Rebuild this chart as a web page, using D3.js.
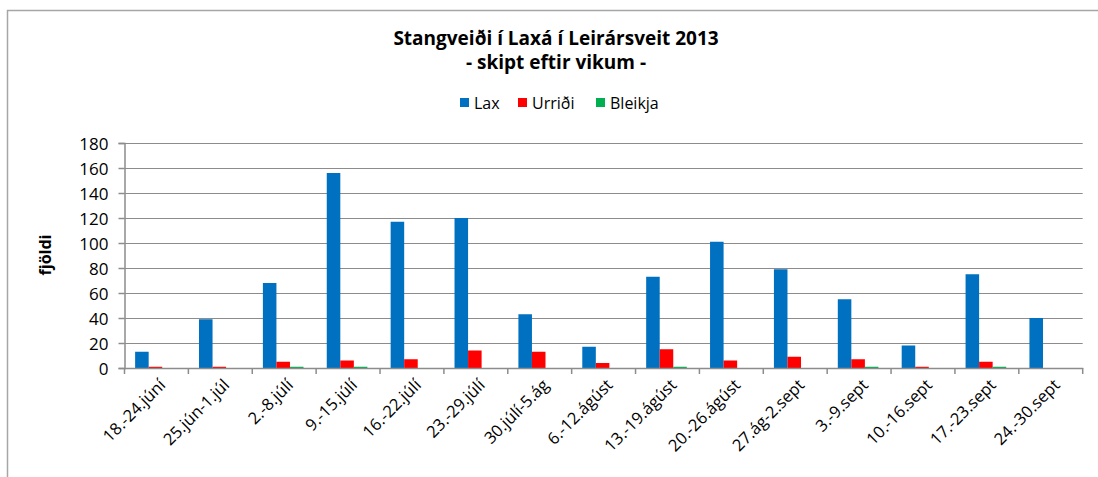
<!DOCTYPE html>
<html><head><meta charset="utf-8">
<script src="https://cdn.jsdelivr.net/npm/d3@7"></script>
<style>body{margin:0;background:#fff}svg{display:block}text{font-family:"Open Sans","Liberation Sans",sans-serif}</style>
</head><body>
<svg id="c" width="1098" height="477"></svg>
<script>
const categories = ["18.-24.júní","25.jún-1.júl","2.-8.júlí","9.-15.júlí","16.-22.júlí","23.-29.júlí","30.júlí-5.ág","6.-12.ágúst","13.-19.ágúst","20.-26.ágúst","27.ág-2.sept","3.-9.sept","10.-16.sept","17.-23.sept","24.-30.sept"];
const seriesNames = ["Lax","Urriði","Bleikja"];
const lax =     [13,39,68,156,117,120,43,17,73,101,79,55,18,75,40];
const urridi =  [1,1,5,6,7,14,13,4,15,6,9,7,1,5,0];
const bleikja = [0,0,1,1,0,0,0,0,1,0,0,1,0,1,0];
const yTicks = [0,20,40,60,80,100,120,140,160,180];
const colors = ["#0070C0","#FF0000","#00B050"];
const series = [lax, urridi, bleikja];

const svg = d3.select("#c");
svg.append("path").attr("d","M7.5,477 V10.5 H1098").attr("fill","none").attr("stroke","#a6a6a6").attr("stroke-width",1.5);

const m = {l:124.5, r:1082.7, t:143, b:368};
const x = d3.scaleBand().domain(categories).range([m.l, m.r]).paddingInner(0).paddingOuter(0);
const y = d3.scaleLinear().domain([0,180]).range([m.b, m.t]);
const bw = x.bandwidth();
const barW = bw*0.212;
const xs = d3.scaleBand().domain(seriesNames).range([0, barW*3]);
const groupOff = (bw - barW*3)/2 - 1;

svg.append("g").selectAll("line").data(yTicks.filter(d=>d>0)).join("line")
  .attr("x1", m.l).attr("x2", m.r).attr("y1", d=>Math.round(y(d))+0.5).attr("y2", d=>Math.round(y(d))+0.5)
  .attr("stroke","#8c8c8c").attr("stroke-width",1);

const g = svg.append("g");
series.forEach((vals, si) => {
  g.selectAll(null).data(vals.map((v,i)=>({v, c:categories[i]}))).join("rect")
    .attr("x", d => x(d.c) + groupOff + xs(seriesNames[si]))
    .attr("y", d => y(d.v))
    .attr("width", barW)
    .attr("height", d => y(0) - y(d.v))
    .attr("fill", colors[si]);
});

const ya = d3.axisLeft(y).tickValues(yTicks).tickSize(6).tickPadding(10).tickFormat(d3.format("d"));
const yg = svg.append("g").attr("transform",`translate(${m.l},0)`).call(ya);
yg.select(".domain").attr("stroke","#8c8c8c").attr("stroke-width",1.5);
yg.selectAll(".tick line").attr("stroke","#8c8c8c").attr("stroke-width",1.5);
yg.selectAll("text").attr("font-size",17).attr("fill","#000").attr("font-family","'Open Sans',sans-serif").attr("dy","0.36em");

const xa = d3.axisBottom(x).tickSize(0).tickFormat(d=>d);
const xg = svg.append("g").attr("transform",`translate(0,${m.b})`).call(xa);
xg.select(".domain").attr("stroke","#8c8c8c").attr("stroke-width",1.5);
const bounds = categories.map(c=>x(c)).concat([m.r]);
xg.selectAll("line.cat").data(bounds).join("line").attr("class","cat")
  .attr("x1",d=>d).attr("x2",d=>d).attr("y1",0).attr("y2",6).attr("stroke","#8c8c8c").attr("stroke-width",1.5);
xg.selectAll(".tick text")
  .attr("font-size",16.5).attr("fill","#000").attr("font-family","'Open Sans',sans-serif")
  .attr("text-anchor","end").attr("dy",0)
  .attr("transform","translate(8,16) rotate(-45)");

svg.append("text").attr("transform","translate(51,255) rotate(-90)").attr("text-anchor","middle")
  .attr("font-size",16).attr("font-weight","bold").attr("fill","#000").text("fjöldi");

svg.append("text").attr("x",556).attr("y",45).attr("text-anchor","middle").attr("font-size",19).attr("font-weight","bold").text("Stangveiði í Laxá í Leirársveit 2013");
svg.append("text").attr("x",556).attr("y",69).attr("text-anchor","middle").attr("font-size",19).attr("font-weight","bold").text("- skipt eftir vikum -");

const legendX = [460, 518, 596];
const lg = svg.append("g");
seriesNames.forEach((n,i)=>{
  lg.append("rect").attr("x",legendX[i]).attr("y",98).attr("width",9).attr("height",9).attr("fill",colors[i]);
  lg.append("text").attr("x",legendX[i]+14).attr("y",108.5).attr("font-size",16).attr("fill","#000").text(n);
});
</script>
</body></html>
